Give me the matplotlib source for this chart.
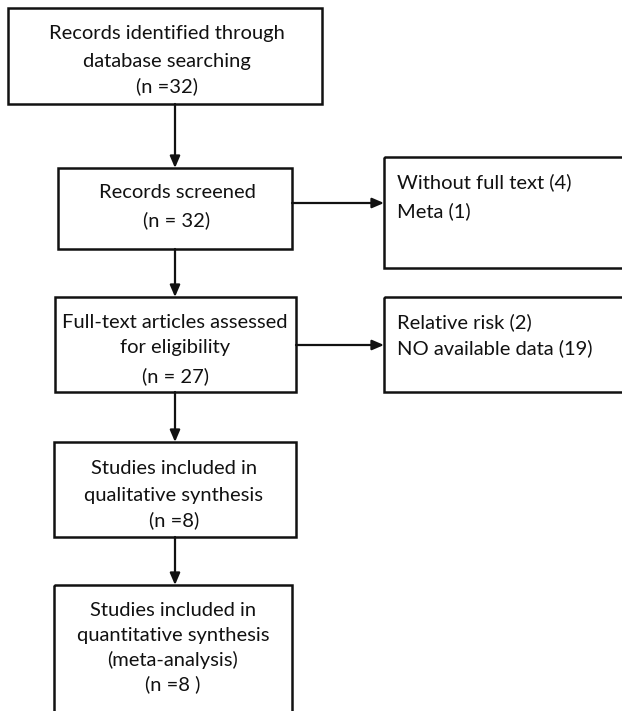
import matplotlib
matplotlib.use("Agg")
import matplotlib.pyplot as plt
from matplotlib.patches import Rectangle

# ---- content ----
box_ids = ["identified", "screened", "excluded1", "fulltext", "excluded2", "qualitative", "quantitative"]
box_texts = [
    ["Records identified through", "database searching", "(n =32)"],
    ["Records screened", "(n = 32)"],
    ["Without full text (4)", "Meta (1)"],
    ["Full-text articles assessed", "for eligibility", "(n = 27)"],
    ["Relative risk (2)", "NO available data (19)"],
    ["Studies included in", "qualitative synthesis", "(n =8)"],
    ["Studies included in", "quantitative synthesis", "(meta-analysis)", "(n =8 )"],
]

# ---- layout (pixel coords, y downwards) ----
W, H = 622, 711
boxes = {
    "identified":   (8, 8, 322, 104),
    "screened":     (58, 168, 292, 249),
    "excluded1":    (384, 157, 640, 268),
    "fulltext":     (55, 297, 296, 392),
    "excluded2":    (384, 297, 640, 392),
    "qualitative":  (54, 442, 296, 537),
    "quantitative": (54, 585, 292, 740),
}
text_y = {
    "identified":   [33, 61, 86],
    "screened":     [193, 220],
    "excluded1":    [182, 211],
    "fulltext":     [322, 348, 376],
    "excluded2":    [322, 348],
    "qualitative":  [468, 495, 520],
    "quantitative": [610, 635, 660, 684],
}
text_x = {
    "identified": 167, "screened": 177, "fulltext": 175,
    "qualitative": 174, "quantitative": 173,
    "excluded1": 397, "excluded2": 397,
}
arrow_x = 175

fig = plt.figure(figsize=(W / 100, H / 100), dpi=100)
ax = fig.add_axes([0, 0, 1, 1])
ax.set_xlim(0, W)
ax.set_ylim(H, 0)
ax.axis("off")

font = ["Lato", "DejaVu Sans"]
lw = 1.8

for bid, lines in zip(box_ids, box_texts):
    x0, y0, x1, y1 = boxes[bid]
    ax.add_patch(Rectangle((x0, y0), x1 - x0, y1 - y0, fill=False,
                           edgecolor="#111111", linewidth=lw, clip_on=True))
    left = bid.startswith("excluded")
    for line, ty in zip(lines, text_y[bid]):
        ax.text(text_x[bid], ty, line, ha="left" if left else "center",
                va="center", fontsize=14.5, family=font, color="#111111")

def arrow(x0, y0, x1, y1):
    ax.annotate("", xy=(x1, y1), xytext=(x0, y0),
                arrowprops=dict(arrowstyle="-|>,head_length=0.7,head_width=0.3",
                                color="#111111", lw=1.6, shrinkA=0, shrinkB=0))

# vertical arrows
chain = ["identified", "screened", "fulltext", "qualitative", "quantitative"]
for a, b in zip(chain[:-1], chain[1:]):
    arrow(arrow_x, boxes[a][3], arrow_x, boxes[b][1])

# horizontal arrows
arrow(boxes["screened"][2], 203, boxes["excluded1"][0], 203)
arrow(boxes["fulltext"][2], 345, boxes["excluded2"][0], 345)

fig.savefig("out.png", dpi=100, facecolor="white")
